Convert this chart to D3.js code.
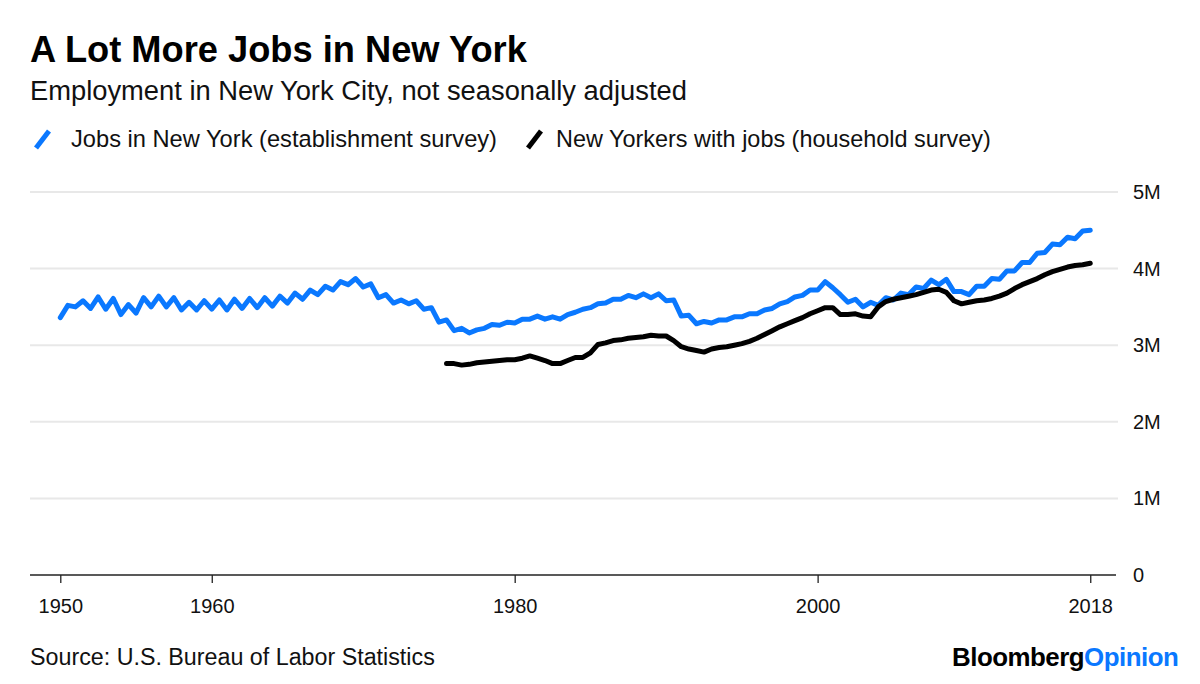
<!DOCTYPE html>
<html><head><meta charset="utf-8">
<script src="https://cdn.jsdelivr.net/npm/d3@7"></script>
<style>
html,body{margin:0;padding:0;background:#fff;}
svg{display:block;font-family:"Liberation Sans",Arial,Helvetica,sans-serif;}
</style></head>
<body>
<svg id="chart" width="1200" height="684"></svg>
<script>
// ---- data ----
const title = "A Lot More Jobs in New York";
const subtitle = "Employment in New York City, not seasonally adjusted";
const seriesNames = ["Jobs in New York (establishment survey)", "New Yorkers with jobs (household survey)"];
const source = "Source: U.S. Bureau of Labor Statistics";

// Establishment survey, millions, half-year steps starting 1950.0
const blueStart = 1950.0;
const blueValues = [
 3.36,3.52, 3.50,3.58, 3.48,3.63, 3.47,3.61, 3.40,3.53, 3.42,3.62, 3.50,3.64, 3.50,3.62,
 3.46,3.56, 3.46,3.58, 3.47,3.59, 3.46,3.60, 3.48,3.61, 3.49,3.62, 3.51,3.64, 3.55,3.68,
 3.60,3.72, 3.66,3.77, 3.72,3.83, 3.79,3.87, 3.76,3.80, 3.62,3.66, 3.55,3.59, 3.54,3.58,
 3.47,3.49, 3.30,3.33, 3.19,3.22, 3.16,3.20, 3.22,3.27, 3.26,3.30, 3.29,3.34, 3.34,3.38,
 3.34,3.37, 3.34,3.40, 3.43,3.47, 3.49,3.54, 3.55,3.60, 3.60,3.65, 3.62,3.67, 3.62,3.67,
 3.58,3.59, 3.38,3.39, 3.28,3.31, 3.29,3.33, 3.33,3.37, 3.37,3.41, 3.41,3.46, 3.48,3.54,
 3.57,3.63, 3.65,3.72, 3.72,3.83, 3.75,3.66, 3.56,3.60, 3.50,3.56, 3.52,3.62, 3.59,3.68,
 3.66,3.76, 3.74,3.85, 3.79,3.86, 3.70,3.70, 3.66,3.77, 3.77,3.87, 3.86,3.97, 3.97,4.08,
 4.08,4.20, 4.21,4.32, 4.31,4.41, 4.39,4.49, 4.50
];

// Household survey, millions, half-year steps starting 1975.5
const blackStart = 1975.5;
const blackValues = [
 2.76, 2.76,2.74, 2.75,2.77, 2.78,2.79, 2.80,2.81, 2.81,2.83, 2.86,2.83, 2.80,2.76,
 2.76,2.80, 2.84,2.84, 2.90,3.01, 3.03,3.06, 3.07,3.09, 3.10,3.11, 3.13,3.12, 3.12,3.06,
 2.98,2.95, 2.93,2.91, 2.95,2.97, 2.98,3.00, 3.02,3.05, 3.09,3.14, 3.19,3.24, 3.28,3.32,
 3.36,3.41, 3.45,3.49, 3.49,3.40, 3.40,3.41, 3.38,3.37, 3.50,3.57, 3.60,3.62, 3.64,3.66,
 3.69,3.72, 3.73,3.69, 3.58,3.54, 3.56,3.58, 3.59,3.61, 3.64,3.68, 3.74,3.79, 3.83,3.87,
 3.92,3.96, 3.99,4.02, 4.04,4.05, 4.07
];

const xTickYears = [1950, 1960, 1980, 2000, 2018];
const yTickValues = [0, 1, 2, 3, 4, 5];
const yTickLabels = ["0", "1M", "2M", "3M", "4M", "5M"];

// ---- drawing ----
const BLUE = "#0a78ff";
const svg = d3.select("#chart");

function fit(sel, target) {
  const w = sel.node().getComputedTextLength();
  const fs = parseFloat(sel.attr("font-size"));
  sel.attr("font-size", (fs * target / w).toFixed(2));
}

const x = d3.scaleLinear().domain([1948, 2019.7]).range([30, 1116]);
const y = d3.scaleLinear().domain([0, 5]).range([575, 192]);

const blueData = blueValues.map((v, i) => ({t: blueStart + i * 0.5, v}));
const blackData = blackValues.map((v, i) => ({t: blackStart + i * 0.5, v}));

// gridlines
svg.append("g").selectAll("line")
  .data(yTickValues.filter(d => d > 0)).join("line")
  .attr("x1", 30).attr("x2", 1118)
  .attr("y1", d => y(d)).attr("y2", d => y(d))
  .attr("stroke", "#e8e8e8").attr("stroke-width", 2);

// y labels
const yAxis = svg.append("g").attr("transform", "translate(1118,0)")
  .call(d3.axisRight(y).tickValues(yTickValues).tickSize(0).tickPadding(15)
    .tickFormat((d, i) => yTickLabels[i]));
yAxis.select(".domain").remove();
yAxis.selectAll("text").attr("font-size", 20).attr("fill", "#111")
  .attr("font-family", "Liberation Sans, Arial, sans-serif");

// x axis
const xAxis = svg.append("g").attr("transform", "translate(0,575)")
  .call(d3.axisBottom(x).tickValues(xTickYears).tickSize(8).tickPadding(16)
    .tickFormat(d3.format("d")));
xAxis.select(".domain").remove();
xAxis.selectAll(".tick line").attr("stroke", "#222").attr("stroke-width", 1.3);
xAxis.selectAll("text").attr("font-size", 20).attr("fill", "#111")
  .attr("font-family", "Liberation Sans, Arial, sans-serif");
svg.append("line").attr("x1", 30).attr("x2", 1116).attr("y1", 575).attr("y2", 575)
  .attr("stroke", "#222").attr("stroke-width", 1.5);

// lines
const line = d3.line().x(d => x(d.t)).y(d => y(d.v));
svg.append("path").datum(blueData).attr("d", line)
  .attr("fill", "none").attr("stroke", BLUE).attr("stroke-width", 5)
  .attr("stroke-linejoin", "round").attr("stroke-linecap", "round");
svg.append("path").datum(blackData).attr("d", line)
  .attr("fill", "none").attr("stroke", "#000").attr("stroke-width", 5)
  .attr("stroke-linejoin", "round").attr("stroke-linecap", "round");

// titles
const t = svg.append("text").attr("x", 30).attr("y", 62).attr("font-size", 32)
  .attr("font-weight", "bold").attr("fill", "#000").text(title);
fit(t, 497);
const st = svg.append("text").attr("x", 30).attr("y", 100).attr("font-size", 24)
  .attr("fill", "#111").text(subtitle);
fit(st, 657);

// legend
const legend = [
  {name: seriesNames[0], color: BLUE, sx: 36, tx: 71, w: 426},
  {name: seriesNames[1], color: "#000", sx: 528, tx: 556, w: 435}
];
legend.forEach(l => {
  svg.append("line").attr("x1", l.sx).attr("y1", 148).attr("x2", l.sx + 13).attr("y2", 131)
    .attr("stroke", l.color).attr("stroke-width", 5).attr("stroke-linecap", "butt");
  const lt = svg.append("text").attr("x", l.tx).attr("y", 147).attr("font-size", 20)
    .attr("fill", "#111").text(l.name);
  fit(lt, l.w);
});

// footer
const src = svg.append("text").attr("x", 30).attr("y", 665).attr("font-size", 20)
  .attr("fill", "#111").text(source);
fit(src, 405);
const logo = svg.append("text").attr("x", 952).attr("y", 666).attr("font-size", 22)
  .attr("font-weight", "bold").attr("letter-spacing", -0.5);
logo.append("tspan").attr("fill", "#000").text("Bloomberg");
logo.append("tspan").attr("fill", BLUE).text("Opinion");
fit(logo, 225);
</script>
</body></html>
